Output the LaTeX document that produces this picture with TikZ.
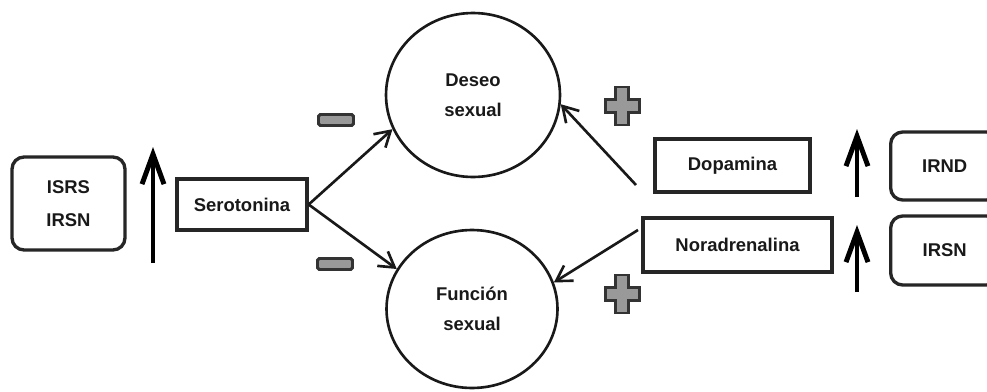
\documentclass[tikz,border=0pt]{standalone}
\usepackage{fontspec}
\setmainfont{Liberation Sans}
\usetikzlibrary{arrows.meta,shapes.geometric}
\tikzset{
  txt/.style={font=\bfseries\fontsize{10.5}{12}\selectfont, text=black!90},
  sqbox/.style={txt, draw=black!85, line width=1.9pt, rectangle, inner sep=0pt},
  rbox/.style={sqbox, rounded corners=0.24cm},
  ell/.style={txt, draw=black!90, line width=1.5pt, ellipse, inner sep=0pt, align=center},
  thinarr/.style={draw=black!90, line width=1.5pt, -{Straight Barb[length=0.3cm,width=0.36cm]}},
  bigarr/.style={draw=black, line width=2.8pt, -{Straight Barb[length=0.6cm,width=0.44cm]}},
  signfill/.style={fill=black!40, draw=black!80, line width=1.7pt},
  plussign/.pic={\path[signfill] (-6.5,-19) -- (6.5,-19) -- (6.5,-6.5) -- (17,-6.5) -- (17,6.5) -- (6.5,6.5) -- (6.5,19) -- (-6.5,19) -- (-6.5,6.5) -- (-17,6.5) -- (-17,-6.5) -- (-6.5,-6.5) -- cycle;},
  minussign/.pic={\path[signfill, rounded corners=1pt] (-17.5,-5.5) rectangle (17.5,5.5);}
}
\begin{document}
\begin{tikzpicture}[x=0.02cm,y=-0.02cm]
\useasboundingbox (0,0) rectangle (987,392);
\clip (0,0) rectangle (987,392);
\fill[white] (0,0) rectangle (987,392);
% nodes
\node[rbox, minimum width=2.26cm, minimum height=1.86cm, align=center, font=\bfseries\fontsize{10.5}{18.5}\selectfont] (isrs) at (68.5,203.5) {ISRS\\IRSN};
\node[sqbox, minimum width=2.6cm, minimum height=1.02cm] (sero) at (242,204.5) {Serotonina};
\node[ell, minimum width=3.48cm, minimum height=3.28cm, font=\bfseries\fontsize{10.5}{17}\selectfont] (deseo) at (473,95) {Deseo\\sexual};
\node[ell, minimum width=3.42cm, minimum height=3.16cm, font=\bfseries\fontsize{10.5}{17}\selectfont] (funcion) at (472,309) {Función\\sexual};
\node[sqbox, minimum width=3.1cm, minimum height=1.06cm] (dopa) at (732.5,165.5) {Dopamina};
\node[sqbox, minimum width=3.78cm, minimum height=1.08cm] (nora) at (737.5,245) {Noradrenalina};
\node[rbox, minimum width=2.16cm, minimum height=1.36cm, anchor=west] (irnd) at (889,166) {IRND};
\node[rbox, minimum width=2.16cm, minimum height=1.38cm, anchor=west] (irsn) at (889,250.5) {IRSN};
% arrow coordinates
\coordinate (upLs) at (153,263);
\coordinate (upLe) at (153,147);
\coordinate (upR1s) at (857,197);
\coordinate (upR1e) at (857,129);
\coordinate (upR2s) at (857,292);
\coordinate (upR2e) at (857,225);
\coordinate (dstart) at (636,185);
\coordinate (nstart) at (638,230);
% connectors
\draw[thinarr] (sero.east) -- (deseo.203);
\draw[thinarr] (sero.east) -- (funcion.152);
\draw[thinarr] (dstart) -- (deseo.354);
\draw[thinarr] (nstart) -- (funcion.18);
\draw[bigarr] (upLs) -- (upLe);
\draw[bigarr] (upR1s) -- (upR1e);
\draw[bigarr] (upR2s) -- (upR2e);
% signs
\pic at (336,120) {minussign};
\pic at (335,264) {minussign};
\pic at (622,106) {plussign};
\pic at (622,294) {plussign};
\end{tikzpicture}
\end{document}
